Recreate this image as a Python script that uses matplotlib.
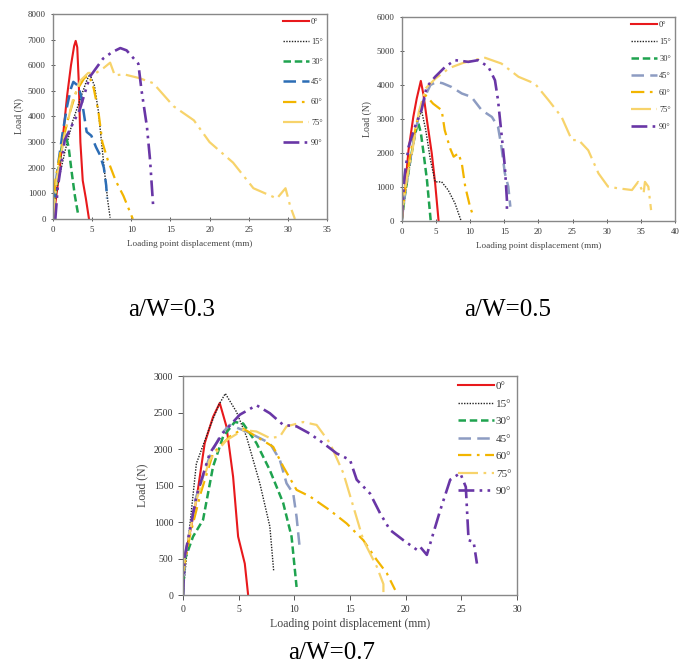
import matplotlib.pyplot as plt

plt.rcParams['font.family'] = ['Liberation Serif', 'DejaVu Serif']

angles = ['0°', '15°', '30°', '45°', '60°', '75°', '90°']

# ---- a/W = 0.3 ----
x3_0 = [0, 0.3, 0.8, 1.3, 1.8, 2.3, 2.7, 2.9, 3.1, 3.3, 3.5, 3.8, 4.2, 4.6]
y3_0 = [0, 600, 1800, 3300, 4800, 6000, 6750, 6950, 6700, 5300, 3000, 1500, 800, 0]
x3_15 = [0, 0.5, 1.5, 2.5, 3.5, 4.3, 4.7, 5.3, 5.8, 6.2, 6.6, 7.0, 7.3]
y3_15 = [0, 1200, 2600, 3800, 4700, 5400, 5650, 5200, 4200, 3000, 1800, 700, 50]
x3_30 = [0, 0.3, 0.8, 1.3, 1.6, 2.0, 2.4, 2.8, 3.2]
y3_30 = [0, 1000, 2200, 3100, 3300, 2800, 1800, 900, 200]
x3_45 = [0, 0.2, 0.6, 1.2, 1.8, 2.3, 2.6, 3.2, 3.6, 4.0, 4.3, 4.9, 5.5, 6.0, 6.5, 6.8, 6.9]
y3_45 = [0, 900, 2000, 3300, 4400, 5100, 5350, 5200, 4800, 4000, 3400, 3250, 2800, 2500, 2000, 1300, 800]
x3_60 = [0, 0.3, 1, 2, 3, 4, 4.6, 5.2, 5.8, 6.3, 7, 8, 9, 9.6, 10.2]
y3_60 = [0, 1500, 2700, 4000, 5000, 5500, 5600, 5100, 4200, 3000, 2300, 1500, 900, 450, 0]
x3_75 = [0, 0.5, 1.5, 2.5, 3.5, 4.5, 5.5, 6.5, 7.3, 7.9, 9, 11, 12.8, 15.4, 18, 20, 23, 25.6,
         28.6, 29.7, 30.3, 30.9]
y3_75 = [0, 1600, 3300, 4600, 5400, 5700, 5700, 5900, 6100, 5600, 5650, 5500, 5300, 4400,
         3850, 3000, 2200, 1200, 800, 1200, 500, 0]
x3_90 = [0.3, 0.6, 1.5, 2.5, 3.4, 4.7, 6.4, 7.5, 8.6, 9.4, 10.9, 11.3, 12.0, 12.4, 12.8]
y3_90 = [0, 1200, 3080, 3700, 4250, 5545, 6260, 6500, 6670, 6580, 6060, 5040, 3600, 2300, 480]

# ---- a/W = 0.5 ----
x5_0 = [0, 0.5, 1.0, 1.7, 2.2, 2.8, 3.2, 3.7, 4.4, 4.9, 5.4]
y5_0 = [0, 1000, 2080, 3060, 3600, 4120, 3700, 2960, 1990, 1100, 0]
x5_15 = [0, 0.6, 1.5, 2.3, 2.9, 3.5, 4.2, 4.9, 5.85, 6.8, 7.8, 8.7]
y5_15 = [0, 900, 2000, 2900, 3250, 2700, 1800, 1150, 1150, 910, 520, 0]
x5_30 = [0, 0.5, 1.2, 1.9, 2.4, 2.8, 3.2, 3.7, 4.25]
y5_30 = [0, 800, 1700, 2500, 2900, 2600, 2000, 1200, 0]
x5_45 = [0, 0.6, 1.5, 2.5, 3.5, 4.2, 5.1, 6.0, 7.3, 8.8, 10.2, 11.7, 13.2, 14.1, 14.6, 15.1,
         15.6, 15.9]
y5_45 = [0, 1000, 2100, 3100, 3700, 4000, 4090, 4050, 3940, 3750, 3650, 3260, 3060, 2770,
         2180, 1400, 1010, 420]
x5_60 = [0, 0.5, 1.3, 2.2, 3.0, 3.5, 4.6, 5.85, 6.3, 7.1, 7.6, 8.3, 8.8, 9.3, 10.0, 10.5]
y5_60 = [0, 900, 2000, 2900, 3500, 3700, 3450, 3260, 2670, 2130, 1890, 1990, 1690, 1010, 420, 130]
x5_75 = [0, 0.5, 1.5, 2.5, 3.5, 5, 7, 9, 11, 12.2, 14.6, 17.1, 19.5, 21.5, 23.4, 24.9, 25.9,
         27.3, 28.8, 30.2, 31.7, 33.7, 34.6, 35.4, 35.6, 36.1, 36.5]
y5_75 = [0, 1000, 2000, 3200, 3900, 4200, 4500, 4650, 4750, 4800, 4630, 4240, 4040, 3550,
         3060, 2380, 2380, 2080, 1400, 1010, 960, 910, 1150, 810, 1150, 1010, 320]
x5_90 = [0, 0.4, 1.0, 2.0, 2.9, 3.65, 4.9, 6.35, 7.8, 9.75, 11.2, 12.7, 13.65, 14.1, 14.6,
         15.1, 15.4, 15.4]
y5_90 = [0, 1300, 2180, 2800, 3260, 3940, 4240, 4530, 4730, 4680, 4730, 4530, 4140, 3550,
         2570, 1600, 620, 320]

# ---- a/W = 0.7 ----
x7_0 = [0, 0.15, 1.2, 1.95, 2.7, 3.3, 3.9, 4.5, 4.95, 5.55, 5.85]
y7_0 = [0, 480, 1300, 2080, 2440, 2630, 2310, 1620, 800, 430, 0]
x7_15 = [0, 0.3, 1.2, 2.4, 3.2, 3.8, 4.8, 5.7, 6.9, 7.8, 8.15]
y7_15 = [0, 500, 1800, 2300, 2600, 2760, 2510, 2170, 1530, 940, 320]
x7_30 = [0, 0.15, 0.9, 1.8, 2.7, 3.6, 4.65, 5.4, 6.6, 7.8, 9.0, 9.75, 10.2]
y7_30 = [0, 480, 800, 1030, 1760, 2170, 2370, 2350, 2080, 1710, 1260, 800, 110]
x7_45 = [0, 0.2, 1.2, 2.4, 3.4, 4.2, 5.7, 7.8, 8.7, 9.3, 9.9, 10.2, 10.5]
y7_45 = [0, 550, 1350, 1900, 2200, 2330, 2240, 2080, 1850, 1530, 1390, 1070, 620]
x7_60 = [0, 0.6, 1.6, 2.7, 4.2, 5.4, 6.6, 8.1, 9.0, 10.2, 11.4, 13.2, 14.7, 16.2, 17.4, 18.3, 19.05]
y7_60 = [300, 800, 1400, 1940, 2170, 2280, 2170, 2030, 1760, 1440, 1350, 1160, 980, 750, 480,
         300, 70]
x7_75 = [0, 0.15, 1.2, 2.4, 3.9, 5.4, 6.6, 7.8, 8.7, 9.3, 10.8, 12, 13.2, 14.4, 15.3, 16.2,
         17.4, 18, 18]
y7_75 = [300, 525, 1300, 1850, 2120, 2260, 2240, 2150, 2170, 2310, 2370, 2330, 2080, 1670,
         1210, 750, 390, 150, 0]
x7_90 = [0, 0.15, 1.2, 2.4, 3.6, 5.1, 6.6, 7.8, 9.0, 10.2, 11.4, 12.6, 13.8, 15, 15.6, 16.8,
         17.7, 18.6, 19.8, 21, 21.3, 21.9, 23.1, 24, 24.9, 25.4, 25.65, 26.1, 26.4]
y7_90 = [0, 525, 1350, 1940, 2220, 2470, 2600, 2490, 2330, 2310, 2210, 2080, 1940, 1850, 1580,
         1390, 1120, 890, 750, 620, 660, 550, 1160, 1580, 1670, 1480, 750, 730, 430]

red = '#e8191c'
black = '#222222'
green = '#1fa34f'
blue = '#2c6db5'
grayblue = '#8d9cc2'
orange = '#f2b500'
yellow = '#f7d36b'
purple = '#6936a6'

styles = [
    dict(color=red, lw=1.5, ls='-'),
    dict(color=black, lw=1.0, dashes=(1, 1)),
    dict(color=green, lw=1.8, dashes=(3, 1.5)),
    dict(color=blue, lw=1.8, dashes=(5, 2.5)),
    dict(color=orange, lw=1.6, dashes=(6, 2.5, 1.2, 2.5)),
    dict(color=yellow, lw=1.6, dashes=(9, 2.5, 1.2, 2.5)),
    dict(color=purple, lw=1.9, dashes=(6, 2, 1, 2, 1, 2)),
]


def panel(ax, xs, ys, xmax, ymax, ystep, tsize, blue_col, legsize, legspace, tdir):
    for i, (x, y) in enumerate(zip(xs, ys)):
        st = dict(styles[i])
        if i == 3:
            st['color'] = blue_col
        ax.plot(x, y, label=angles[i], **st)
    ax.set_xlim(0, xmax)
    ax.set_ylim(0, ymax)
    ax.set_xticks(range(0, xmax + 1, 5))
    ax.set_yticks(range(0, ymax + 1, ystep))
    ax.tick_params(labelsize=tsize, colors='#555555', labelcolor='#333333',
                   length=3.5, width=0.7, direction=tdir)
    for s in ax.spines.values():
        s.set_color('#888888')
        s.set_linewidth(1.0)
    leg = ax.legend(loc='upper right', frameon=False, fontsize=legsize,
                    handlelength=3.2, handletextpad=0.2, labelspacing=legspace,
                    borderaxespad=0.1, bbox_to_anchor=(1.0, 1.0))
    for t in leg.get_texts():
        t.set_color('#333333')


fig = plt.figure(figsize=(6.89, 6.66), dpi=100)

ax1 = fig.add_axes([0.0769, 0.6712, 0.3977, 0.3078])
panel(ax1, [x3_0, x3_15, x3_30, x3_45, x3_60, x3_75, x3_90],
      [y3_0, y3_15, y3_30, y3_45, y3_60, y3_75, y3_90],
      35, 8000, 1000, 6.3, blue, 6, 1.45, 'inout')
ax1.set_xlabel('Loading point displacement (mm)', fontsize=6.6, color='#444444', labelpad=4)
ax1.set_ylabel('Load (N)', fontsize=7, color='#444444', labelpad=3)

ax2 = fig.add_axes([0.583, 0.6682, 0.3967, 0.3063])
panel(ax2, [x5_0, x5_15, x5_30, x5_45, x5_60, x5_75, x5_90],
      [y5_0, y5_15, y5_30, y5_45, y5_60, y5_75, y5_90],
      40, 6000, 1000, 6.3, grayblue, 6, 1.08, 'inout')
ax2.set_xlabel('Loading point displacement (mm)', fontsize=6.6, color='#444444', labelpad=4)
ax2.set_ylabel('Load (N)', fontsize=7, color='#444444', labelpad=3)

ax3 = fig.add_axes([0.2656, 0.1066, 0.4848, 0.3288])
panel(ax3, [x7_0, x7_15, x7_30, x7_45, x7_60, x7_75, x7_90],
      [y7_0, y7_15, y7_30, y7_45, y7_60, y7_75, y7_90],
      30, 3000, 500, 7, grayblue, 8, 0.69, 'out')
ax3.set_xlabel('Loading point displacement (mm)', fontsize=8.5, color='#444444', labelpad=3)
ax3.set_ylabel('Load (N)', fontsize=8.5, color='#444444', labelpad=4)

fig.text(172 / 689, 1 - 310 / 666, 'a/W=0.3', fontsize=18, ha='center', va='center')
fig.text(508 / 689, 1 - 310 / 666, 'a/W=0.5', fontsize=18, ha='center', va='center')
fig.text(332 / 689, 1 - 653 / 666, 'a/W=0.7', fontsize=18, ha='center', va='center')

fig.savefig('out.png', dpi=100)
